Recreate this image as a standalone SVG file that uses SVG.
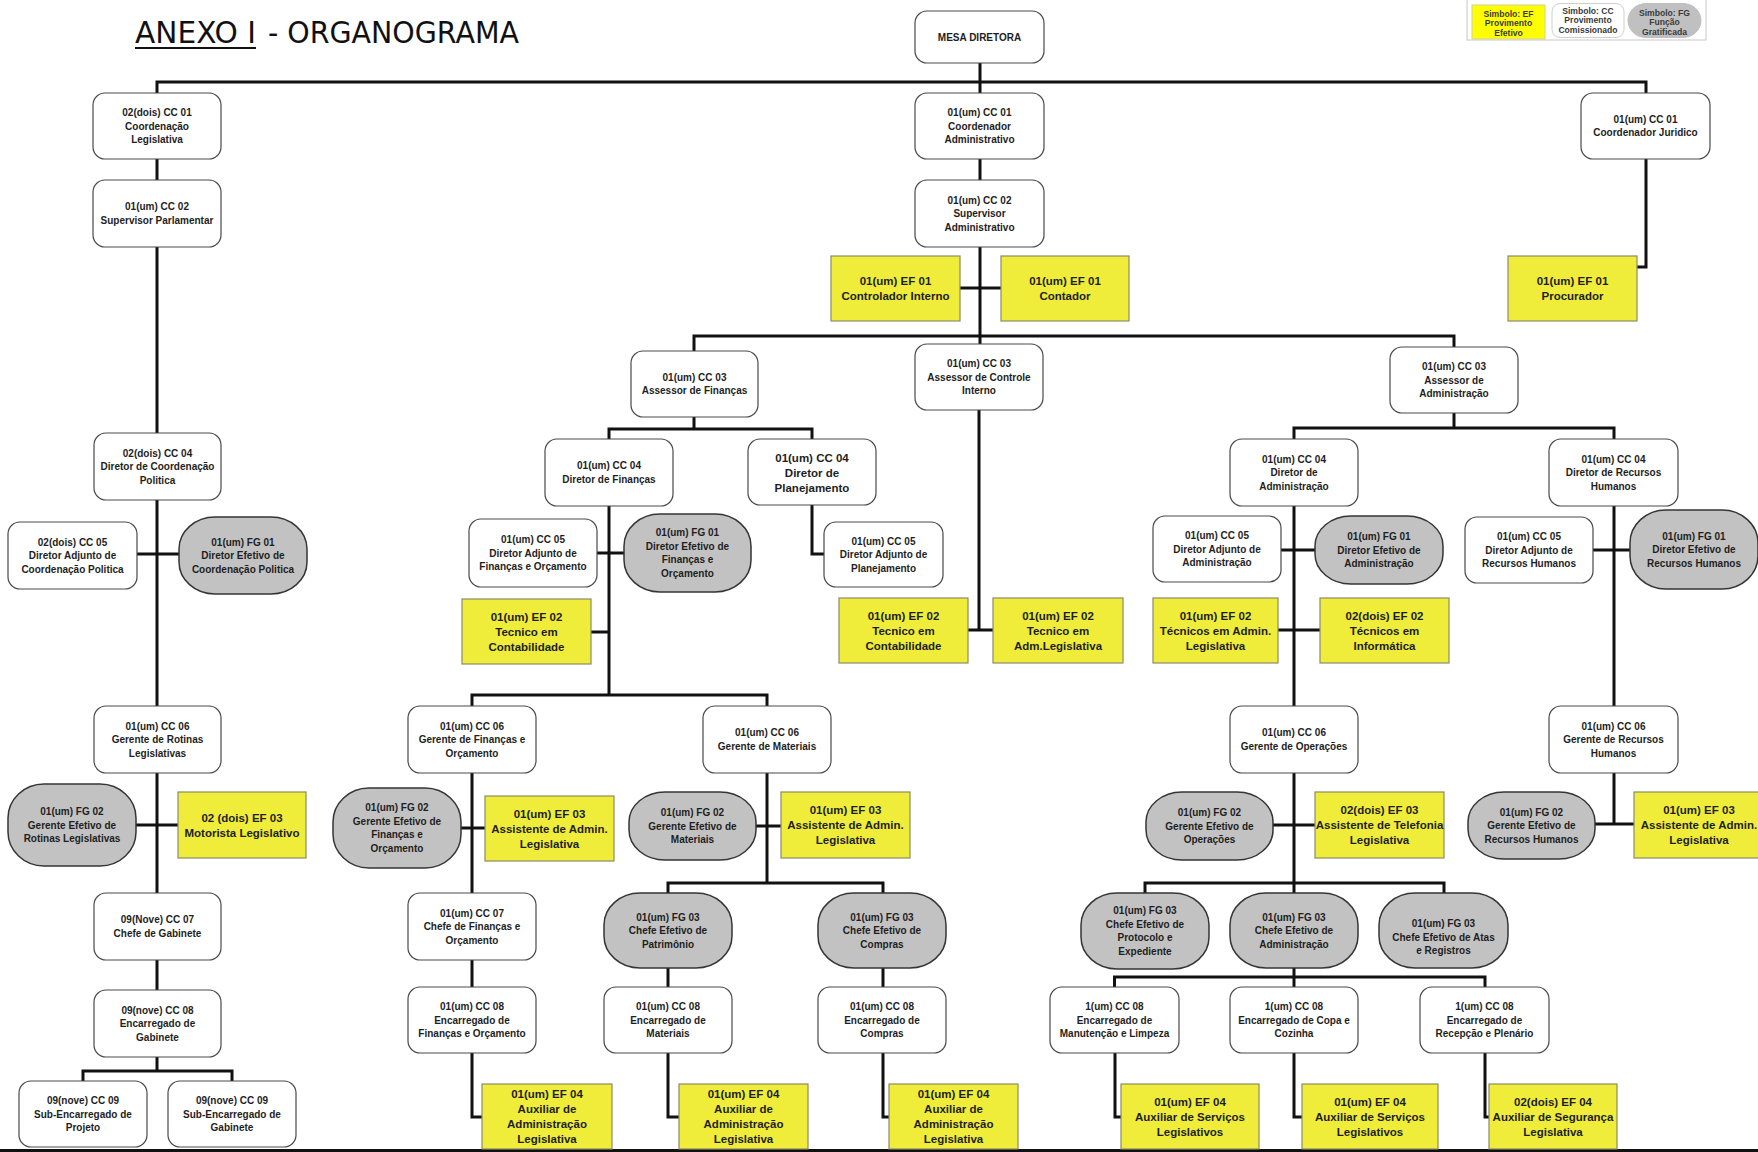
<svg xmlns="http://www.w3.org/2000/svg" width="1758" height="1152" viewBox="0 0 1758 1152">
<style>
.cc{fill:#fff;stroke:#4a4a4a;stroke-width:1.2}
.fg{fill:#c2c2c2;stroke:#353535;stroke-width:1.5}
.ef{fill:#efed3a;stroke:#8a8a6a;stroke-width:1.2}
.t{font-family:"Liberation Sans",Arial,sans-serif;font-weight:bold;font-size:10px;fill:#1e1e1e;text-anchor:middle}
.y{font-size:11.5px}
.lg{font-family:"Liberation Sans",Arial,sans-serif;font-weight:bold;font-size:8.6px;fill:#3a3a3a;text-anchor:middle}
.conn path{fill:none;stroke:#111;stroke-width:3}
</style>
<rect x="0" y="0" width="1758" height="1152" fill="#fff"/>
<g id="title" font-family="'DejaVu Sans',Verdana,sans-serif" font-size="31" fill="#111">
<text x="135" y="43" textLength="121" lengthAdjust="spacingAndGlyphs">ANEXO I</text>
<line x1="135" y1="48" x2="256" y2="48" stroke="#111" stroke-width="1.8"/>
<text x="268" y="43" textLength="251" lengthAdjust="spacingAndGlyphs">- ORGANOGRAMA</text>
</g>
<g id="legend">
<text x="1472" y="2.5" font-family="'Liberation Sans',Arial,sans-serif" font-size="13" fill="#555">Legenda:</text>
<rect x="1467" y="-2" width="239" height="42" fill="#fff" stroke="#c8c8c8" stroke-width="1"/>
<rect x="1472" y="5" width="73" height="34" fill="#ffff00" stroke="#d0d0a0" stroke-width="1"/>
<text class="lg" x="1508.5" y="17"><tspan x="1508.5">Simbolo: EF</tspan><tspan x="1508.5" dy="9.3">Provimento</tspan><tspan x="1508.5" dy="9.3">Efetivo</tspan></text>
<rect x="1552" y="3.5" width="72" height="34" rx="8" fill="#fff" stroke="#cfcfcf" stroke-width="1"/>
<text class="lg" x="1588" y="14"><tspan x="1588">Simbolo: CC</tspan><tspan x="1588" dy="9.3">Provimento</tspan><tspan x="1588" dy="9.3">Comissionado</tspan></text>
<rect x="1628" y="3.5" width="73" height="34" rx="18" ry="17" fill="#c0c0c0" stroke="#c0c0c0" stroke-width="1"/>
<text class="lg" x="1664.5" y="16"><tspan x="1664.5">Simbolo: FG</tspan><tspan x="1664.5" dy="9.3">Função</tspan><tspan x="1664.5" dy="9.3">Gratificada</tspan></text>
</g>
<g class="conn" id="connectors">
<path d="M980 63V93M980 159V180M980 247V344"/>
<path d="M157 93V82H1646V93M1646 159V267H1637"/>
<path d="M157 159V180M157 247V433M157 500V706M137 554H179M157 773V893M136 825H178M157 960V990M157 1057V1071M83 1081V1071H232V1081"/>
<path d="M960 288H1001"/>
<path d="M694 351V336H1454V347"/>
<path d="M694 417V429M609 439V429H812V439"/>
<path d="M609 506V695M597 553H624M591 632H609"/>
<path d="M472 706V695H767V706"/>
<path d="M812 504V554H824"/>
<path d="M979 410V630M968 630H993"/>
<path d="M472 773V893M461 828H485M472 960V987M472 1053V1117H482"/>
<path d="M767 773V883M756 826H781M668 893V883H883V893M668 968V987M883 968V987M668 1053V1117H679M883 1053V1117H889"/>
<path d="M1454 413V428M1294 439V428H1614V439"/>
<path d="M1294 506V706M1281 550H1315M1278 630H1320"/>
<path d="M1614 506V706M1593 550H1630"/>
<path d="M1294 773V893M1273 825H1315M1145 893V883H1444V893M1294 968V987M1114.5 987V977H1485V987"/>
<path d="M1115 1053V1117H1121M1294 1053V1117H1302M1485 1053V1117H1489"/>
<path d="M1614 773V824M1595 824H1634"/>
<path d="M0 1150.5H1758"/>
</g>
<g id="n-mesa"><rect class="cc" x="915" y="11" width="129" height="52" rx="12"/><text class="t" x="979.5" y="40.6">MESA DIRETORA</text></g>
<g id="n-l-cc01"><rect class="cc" x="93" y="93" width="128" height="66" rx="12"/><text class="t" x="157" y="116.1"><tspan x="157">02(dois) CC 01</tspan><tspan x="157" dy="13.5">Coordenação</tspan><tspan x="157" dy="13.5">Legislativa</tspan></text></g>
<g id="n-l-cc02"><rect class="cc" x="93" y="180" width="128" height="67" rx="12"/><text class="t" x="157" y="210.4"><tspan x="157">01(um) CC 02</tspan><tspan x="157" dy="13.5">Supervisor Parlamentar</tspan></text></g>
<g id="n-l-cc04"><rect class="cc" x="94" y="433" width="127" height="67" rx="12"/><text class="t" x="157.5" y="456.6"><tspan x="157.5">02(dois) CC 04</tspan><tspan x="157.5" dy="13.5">Diretor de Coordenação</tspan><tspan x="157.5" dy="13.5">Politica</tspan></text></g>
<g id="n-l-cc05"><rect class="cc" x="8" y="522" width="129" height="67" rx="12"/><text class="t" x="72.5" y="545.6"><tspan x="72.5">02(dois) CC 05</tspan><tspan x="72.5" dy="13.5">Diretor Adjunto de</tspan><tspan x="72.5" dy="13.5">Coordenação Politica</tspan></text></g>
<g id="n-l-fg01"><rect class="fg" x="179" y="517" width="128" height="77" rx="36" ry="32"/><text class="t" x="243" y="545.6"><tspan x="243">01(um) FG 01</tspan><tspan x="243" dy="13.5">Diretor Efetivo de</tspan><tspan x="243" dy="13.5">Coordenação Politica</tspan></text></g>
<g id="n-l-cc06"><rect class="cc" x="94" y="706" width="127" height="67" rx="12"/><text class="t" x="157.5" y="729.6"><tspan x="157.5">01(um) CC 06</tspan><tspan x="157.5" dy="13.5">Gerente de Rotinas</tspan><tspan x="157.5" dy="13.5">Legislativas</tspan></text></g>
<g id="n-l-fg02"><rect class="fg" x="8" y="784" width="128" height="82" rx="36" ry="34"/><text class="t" x="72" y="815.1"><tspan x="72">01(um) FG 02</tspan><tspan x="72" dy="13.5">Gerente  Efetivo de</tspan><tspan x="72" dy="13.5">Rotinas Legislativas</tspan></text></g>
<g id="n-l-ef03"><rect class="ef" x="178" y="792" width="128" height="66"/><text class="t y" x="242" y="821.6"><tspan x="242">02 (dois) EF 03</tspan><tspan x="242" dy="15">Motorista Legislativo</tspan></text></g>
<g id="n-l-cc07"><rect class="cc" x="94" y="893" width="127" height="67" rx="12"/><text class="t" x="157.5" y="923.4"><tspan x="157.5">09(Nove) CC 07</tspan><tspan x="157.5" dy="13.5">Chefe de Gabinete</tspan></text></g>
<g id="n-l-cc08"><rect class="cc" x="94" y="990" width="127" height="67" rx="12"/><text class="t" x="157.5" y="1013.6"><tspan x="157.5">09(nove) CC 08</tspan><tspan x="157.5" dy="13.5">Encarregado de</tspan><tspan x="157.5" dy="13.5">Gabinete</tspan></text></g>
<g id="n-l-cc09a"><rect class="cc" x="19" y="1081" width="128" height="66" rx="12"/><text class="t" x="83" y="1104.1"><tspan x="83">09(nove) CC 09</tspan><tspan x="83" dy="13.5">Sub-Encarregado de</tspan><tspan x="83" dy="13.5">Projeto</tspan></text></g>
<g id="n-l-cc09b"><rect class="cc" x="168" y="1081" width="128" height="66" rx="12"/><text class="t" x="232" y="1104.1"><tspan x="232">09(nove) CC 09</tspan><tspan x="232" dy="13.5">Sub-Encarregado de</tspan><tspan x="232" dy="13.5">Gabinete</tspan></text></g>
<g id="n-c-cc01"><rect class="cc" x="915" y="93" width="129" height="66" rx="12"/><text class="t" x="979.5" y="116.1"><tspan x="979.5">01(um) CC 01</tspan><tspan x="979.5" dy="13.5">Coordenador</tspan><tspan x="979.5" dy="13.5">Administrativo</tspan></text></g>
<g id="n-c-cc02"><rect class="cc" x="915" y="180" width="129" height="67" rx="12"/><text class="t" x="979.5" y="203.6"><tspan x="979.5">01(um) CC 02</tspan><tspan x="979.5" dy="13.5">Supervisor</tspan><tspan x="979.5" dy="13.5">Administrativo</tspan></text></g>
<g id="n-ef-controlador"><rect class="ef" x="831" y="256" width="129" height="65"/><text class="t y" x="895.5" y="285.1"><tspan x="895.5">01(um) EF 01</tspan><tspan x="895.5" dy="15">Controlador Interno</tspan></text></g>
<g id="n-ef-contador"><rect class="ef" x="1001" y="256" width="128" height="65"/><text class="t y" x="1065" y="285.1"><tspan x="1065">01(um) EF 01</tspan><tspan x="1065" dy="15">Contador</tspan></text></g>
<g id="n-r-cc01"><rect class="cc" x="1581" y="93" width="129" height="66" rx="12"/><text class="t" x="1645.5" y="122.9"><tspan x="1645.5">01(um) CC 01</tspan><tspan x="1645.5" dy="13.5">Coordenador Juridico</tspan></text></g>
<g id="n-ef-procurador"><rect class="ef" x="1508" y="256" width="129" height="65"/><text class="t y" x="1572.5" y="285.1"><tspan x="1572.5">01(um) EF 01</tspan><tspan x="1572.5" dy="15">Procurador</tspan></text></g>
<g id="n-cc03-fin"><rect class="cc" x="631" y="351" width="127" height="66" rx="12"/><text class="t" x="694.5" y="380.9"><tspan x="694.5">01(um) CC 03</tspan><tspan x="694.5" dy="13.5">Assessor de Finanças</tspan></text></g>
<g id="n-cc03-ci"><rect class="cc" x="915" y="344" width="128" height="66" rx="12"/><text class="t" x="979" y="367.1"><tspan x="979">01(um) CC 03</tspan><tspan x="979" dy="13.5">Assessor de Controle</tspan><tspan x="979" dy="13.5">Interno</tspan></text></g>
<g id="n-cc03-adm"><rect class="cc" x="1390" y="347" width="128" height="66" rx="12"/><text class="t" x="1454" y="370.1"><tspan x="1454">01(um) CC 03</tspan><tspan x="1454" dy="13.5">Assessor de</tspan><tspan x="1454" dy="13.5">Administração</tspan></text></g>
<g id="n-cc04-fin"><rect class="cc" x="545" y="439" width="128" height="67" rx="12"/><text class="t" x="609" y="469.4"><tspan x="609">01(um) CC 04</tspan><tspan x="609" dy="13.5">Diretor de Finanças</tspan></text></g>
<g id="n-cc04-plan"><rect class="cc" x="748" y="439" width="128" height="66" rx="12"/><text class="t y" x="812" y="462.1"><tspan x="812">01(um) CC 04</tspan><tspan x="812" dy="15">Diretor de</tspan><tspan x="812" dy="15">Planejamento</tspan></text></g>
<g id="n-cc05-fin"><rect class="cc" x="469" y="519" width="128" height="68" rx="12"/><text class="t" x="533" y="543.1"><tspan x="533">01(um) CC 05</tspan><tspan x="533" dy="13.5">Diretor Adjunto de</tspan><tspan x="533" dy="13.5">Finanças e Orçamento</tspan></text></g>
<g id="n-fg01-fin"><rect class="fg" x="624" y="514" width="127" height="78" rx="36" ry="32"/><text class="t" x="687.5" y="536.4"><tspan x="687.5">01(um) FG 01</tspan><tspan x="687.5" dy="13.5">Diretor Efetivo de</tspan><tspan x="687.5" dy="13.5">Finanças e</tspan><tspan x="687.5" dy="13.5">Orçamento</tspan></text></g>
<g id="n-ef02-contab-l"><rect class="ef" x="462" y="599" width="129" height="65"/><text class="t y" x="526.5" y="620.6"><tspan x="526.5">01(um) EF 02</tspan><tspan x="526.5" dy="15">Tecnico em</tspan><tspan x="526.5" dy="15">Contabilidade</tspan></text></g>
<g id="n-cc05-plan"><rect class="cc" x="824" y="522" width="119" height="65" rx="12"/><text class="t" x="883.5" y="544.6"><tspan x="883.5">01(um) CC 05</tspan><tspan x="883.5" dy="13.5">Diretor Adjunto de</tspan><tspan x="883.5" dy="13.5">Planejamento</tspan></text></g>
<g id="n-ef02-contab-m"><rect class="ef" x="839" y="598" width="129" height="65"/><text class="t y" x="903.5" y="619.6"><tspan x="903.5">01(um) EF 02</tspan><tspan x="903.5" dy="15">Tecnico em</tspan><tspan x="903.5" dy="15">Contabilidade</tspan></text></g>
<g id="n-ef02-admleg"><rect class="ef" x="993" y="598" width="130" height="65"/><text class="t y" x="1058" y="619.6"><tspan x="1058">01(um) EF 02</tspan><tspan x="1058" dy="15">Tecnico em</tspan><tspan x="1058" dy="15">Adm.Legislativa</tspan></text></g>
<g id="n-cc06-fin"><rect class="cc" x="408" y="706" width="128" height="67" rx="12"/><text class="t" x="472" y="729.6"><tspan x="472">01(um) CC 06</tspan><tspan x="472" dy="13.5">Gerente de Finanças e</tspan><tspan x="472" dy="13.5">Orçamento</tspan></text></g>
<g id="n-cc06-mat"><rect class="cc" x="703" y="706" width="128" height="67" rx="12"/><text class="t" x="767" y="736.4"><tspan x="767">01(um) CC 06</tspan><tspan x="767" dy="13.5">Gerente de Materiais</tspan></text></g>
<g id="n-fg02-fin"><rect class="fg" x="333" y="788" width="128" height="80" rx="36" ry="34"/><text class="t" x="397" y="811.4"><tspan x="397">01(um) FG 02</tspan><tspan x="397" dy="13.5">Gerente Efetivo de</tspan><tspan x="397" dy="13.5">Finanças e</tspan><tspan x="397" dy="13.5">Orçamento</tspan></text></g>
<g id="n-ef03-fin"><rect class="ef" x="485" y="796" width="129" height="65"/><text class="t y" x="549.5" y="817.6"><tspan x="549.5">01(um) EF 03</tspan><tspan x="549.5" dy="15">Assistente de Admin.</tspan><tspan x="549.5" dy="15">Legislativa</tspan></text></g>
<g id="n-fg02-mat"><rect class="fg" x="629" y="792" width="127" height="68" rx="36" ry="30"/><text class="t" x="692.5" y="816.1"><tspan x="692.5">01(um) FG 02</tspan><tspan x="692.5" dy="13.5">Gerente Efetivo de</tspan><tspan x="692.5" dy="13.5">Materiais</tspan></text></g>
<g id="n-ef03-mat"><rect class="ef" x="781" y="792" width="129" height="66"/><text class="t y" x="845.5" y="814.1"><tspan x="845.5">01(um) EF 03</tspan><tspan x="845.5" dy="15">Assistente de Admin.</tspan><tspan x="845.5" dy="15">Legislativa</tspan></text></g>
<g id="n-cc07-fin"><rect class="cc" x="408" y="893" width="128" height="67" rx="12"/><text class="t" x="472" y="916.6"><tspan x="472">01(um) CC 07</tspan><tspan x="472" dy="13.5">Chefe de Finanças e</tspan><tspan x="472" dy="13.5">Orçamento</tspan></text></g>
<g id="n-fg03-patr"><rect class="fg" x="604" y="893" width="128" height="75" rx="36" ry="32"/><text class="t" x="668" y="920.6"><tspan x="668">01(um) FG 03</tspan><tspan x="668" dy="13.5">Chefe Efetivo de</tspan><tspan x="668" dy="13.5">Patrimônio</tspan></text></g>
<g id="n-fg03-compras"><rect class="fg" x="818" y="893" width="128" height="75" rx="36" ry="32"/><text class="t" x="882" y="920.6"><tspan x="882">01(um) FG 03</tspan><tspan x="882" dy="13.5">Chefe Efetivo de</tspan><tspan x="882" dy="13.5">Compras</tspan></text></g>
<g id="n-cc08-fin"><rect class="cc" x="408" y="987" width="128" height="66" rx="12"/><text class="t" x="472" y="1010.1"><tspan x="472">01(um) CC 08</tspan><tspan x="472" dy="13.5">Encarregado de</tspan><tspan x="472" dy="13.5">Finanças e Orçamento</tspan></text></g>
<g id="n-cc08-mat"><rect class="cc" x="604" y="987" width="128" height="66" rx="12"/><text class="t" x="668" y="1010.1"><tspan x="668">01(um) CC 08</tspan><tspan x="668" dy="13.5">Encarregado de</tspan><tspan x="668" dy="13.5">Materiais</tspan></text></g>
<g id="n-cc08-compras"><rect class="cc" x="818" y="987" width="128" height="66" rx="12"/><text class="t" x="882" y="1010.1"><tspan x="882">01(um) CC 08</tspan><tspan x="882" dy="13.5">Encarregado de</tspan><tspan x="882" dy="13.5">Compras</tspan></text></g>
<g id="n-ef04-fin"><rect class="ef" x="482" y="1084" width="130" height="65"/><text class="t y" x="547" y="1098.1"><tspan x="547">01(um) EF 04</tspan><tspan x="547" dy="15">Auxiliar de</tspan><tspan x="547" dy="15">Administração</tspan><tspan x="547" dy="15">Legislativa</tspan></text></g>
<g id="n-ef04-mat"><rect class="ef" x="679" y="1084" width="129" height="65"/><text class="t y" x="743.5" y="1098.1"><tspan x="743.5">01(um) EF 04</tspan><tspan x="743.5" dy="15">Auxiliar de</tspan><tspan x="743.5" dy="15">Administração</tspan><tspan x="743.5" dy="15">Legislativa</tspan></text></g>
<g id="n-ef04-compras"><rect class="ef" x="889" y="1084" width="129" height="65"/><text class="t y" x="953.5" y="1098.1"><tspan x="953.5">01(um) EF 04</tspan><tspan x="953.5" dy="15">Auxiliar de</tspan><tspan x="953.5" dy="15">Administração</tspan><tspan x="953.5" dy="15">Legislativa</tspan></text></g>
<g id="n-cc04-adm"><rect class="cc" x="1230" y="439" width="128" height="67" rx="12"/><text class="t" x="1294" y="462.6"><tspan x="1294">01(um) CC 04</tspan><tspan x="1294" dy="13.5">Diretor de</tspan><tspan x="1294" dy="13.5">Administração</tspan></text></g>
<g id="n-cc04-rh"><rect class="cc" x="1549" y="439" width="129" height="67" rx="12"/><text class="t" x="1613.5" y="462.6"><tspan x="1613.5">01(um) CC 04</tspan><tspan x="1613.5" dy="13.5">Diretor de Recursos</tspan><tspan x="1613.5" dy="13.5">Humanos</tspan></text></g>
<g id="n-cc05-adm"><rect class="cc" x="1153" y="516" width="128" height="66" rx="12"/><text class="t" x="1217" y="539.1"><tspan x="1217">01(um) CC 05</tspan><tspan x="1217" dy="13.5">Diretor Adjunto de</tspan><tspan x="1217" dy="13.5">Administração</tspan></text></g>
<g id="n-fg01-adm"><rect class="fg" x="1315" y="516" width="128" height="68" rx="36" ry="30"/><text class="t" x="1379" y="540.1"><tspan x="1379">01(um) FG 01</tspan><tspan x="1379" dy="13.5">Diretor Efetivo de</tspan><tspan x="1379" dy="13.5">Administração</tspan></text></g>
<g id="n-ef02-tecadm"><rect class="ef" x="1153" y="598" width="125" height="65"/><text class="t y" x="1215.5" y="619.6"><tspan x="1215.5">01(um) EF 02</tspan><tspan x="1215.5" dy="15">Técnicos em Admin.</tspan><tspan x="1215.5" dy="15">Legislativa</tspan></text></g>
<g id="n-ef02-info"><rect class="ef" x="1320" y="598" width="129" height="65"/><text class="t y" x="1384.5" y="619.6"><tspan x="1384.5">02(dois) EF 02</tspan><tspan x="1384.5" dy="15">Técnicos em</tspan><tspan x="1384.5" dy="15">Informática</tspan></text></g>
<g id="n-cc05-rh"><rect class="cc" x="1465" y="517" width="128" height="66" rx="12"/><text class="t" x="1529" y="540.1"><tspan x="1529">01(um) CC 05</tspan><tspan x="1529" dy="13.5">Diretor Adjunto de</tspan><tspan x="1529" dy="13.5">Recursos Humanos</tspan></text></g>
<g id="n-fg01-rh"><rect class="fg" x="1630" y="510" width="128" height="79" rx="36" ry="33"/><text class="t" x="1694" y="539.6"><tspan x="1694">01(um) FG 01</tspan><tspan x="1694" dy="13.5">Diretor Efetivo de</tspan><tspan x="1694" dy="13.5">Recursos Humanos</tspan></text></g>
<g id="n-cc06-oper"><rect class="cc" x="1230" y="706" width="128" height="67" rx="12"/><text class="t" x="1294" y="736.4"><tspan x="1294">01(um) CC 06</tspan><tspan x="1294" dy="13.5">Gerente de Operações</tspan></text></g>
<g id="n-cc06-rh"><rect class="cc" x="1549" y="706" width="129" height="67" rx="12"/><text class="t" x="1613.5" y="729.6"><tspan x="1613.5">01(um) CC 06</tspan><tspan x="1613.5" dy="13.5">Gerente de Recursos</tspan><tspan x="1613.5" dy="13.5">Humanos</tspan></text></g>
<g id="n-fg02-oper"><rect class="fg" x="1146" y="792" width="127" height="68" rx="36" ry="30"/><text class="t" x="1209.5" y="816.1"><tspan x="1209.5">01(um) FG 02</tspan><tspan x="1209.5" dy="13.5">Gerente Efetivo de</tspan><tspan x="1209.5" dy="13.5">Operações</tspan></text></g>
<g id="n-ef03-tel"><rect class="ef" x="1315" y="792" width="129" height="66"/><text class="t y" x="1379.5" y="814.1"><tspan x="1379.5">02(dois) EF 03</tspan><tspan x="1379.5" dy="15">Assistente de Telefonia</tspan><tspan x="1379.5" dy="15">Legislativa</tspan></text></g>
<g id="n-fg02-rh"><rect class="fg" x="1468" y="792" width="127" height="67" rx="36" ry="30"/><text class="t" x="1531.5" y="815.6"><tspan x="1531.5">01(um) FG 02</tspan><tspan x="1531.5" dy="13.5">Gerente  Efetivo de</tspan><tspan x="1531.5" dy="13.5">Recursos Humanos</tspan></text></g>
<g id="n-ef03-rh"><rect class="ef" x="1634" y="792" width="130" height="66"/><text class="t y" x="1699" y="814.1"><tspan x="1699">01(um) EF 03</tspan><tspan x="1699" dy="15">Assistente de Admin.</tspan><tspan x="1699" dy="15">Legislativa</tspan></text></g>
<g id="n-fg03-prot"><rect class="fg" x="1081" y="893" width="128" height="76" rx="36" ry="32"/><text class="t" x="1145" y="914.4"><tspan x="1145">01(um) FG 03</tspan><tspan x="1145" dy="13.5">Chefe Efetivo de</tspan><tspan x="1145" dy="13.5">Protocolo e</tspan><tspan x="1145" dy="13.5">Expediente</tspan></text></g>
<g id="n-fg03-adm"><rect class="fg" x="1230" y="893" width="128" height="75" rx="36" ry="32"/><text class="t" x="1294" y="920.6"><tspan x="1294">01(um) FG 03</tspan><tspan x="1294" dy="13.5">Chefe Efetivo de</tspan><tspan x="1294" dy="13.5">Administração</tspan></text></g>
<g id="n-fg03-atas"><rect class="fg" x="1379" y="893" width="129" height="75" rx="36" ry="32"/><text class="t" x="1443.5" y="927.4"><tspan x="1443.5">01(um) FG 03</tspan><tspan x="1443.5" dy="13.5">Chefe Efetivo de Atas</tspan><tspan x="1443.5" dy="13.5">e Registros</tspan></text></g>
<g id="n-cc08-manut"><rect class="cc" x="1050" y="987" width="129" height="66" rx="12"/><text class="t" x="1114.5" y="1010.1"><tspan x="1114.5">1(um) CC 08</tspan><tspan x="1114.5" dy="13.5">Encarregado de</tspan><tspan x="1114.5" dy="13.5">Manutenção e Limpeza</tspan></text></g>
<g id="n-cc08-copa"><rect class="cc" x="1230" y="987" width="128" height="66" rx="12"/><text class="t" x="1294" y="1010.1"><tspan x="1294">1(um) CC 08</tspan><tspan x="1294" dy="13.5">Encarregado de Copa e</tspan><tspan x="1294" dy="13.5">Cozinha</tspan></text></g>
<g id="n-cc08-recep"><rect class="cc" x="1420" y="987" width="129" height="66" rx="12"/><text class="t" x="1484.5" y="1010.1"><tspan x="1484.5">1(um) CC 08</tspan><tspan x="1484.5" dy="13.5">Encarregado de</tspan><tspan x="1484.5" dy="13.5">Recepção e Plenário</tspan></text></g>
<g id="n-ef04-serv-a"><rect class="ef" x="1121" y="1084" width="138" height="65"/><text class="t y" x="1190" y="1105.6"><tspan x="1190">01(um) EF 04</tspan><tspan x="1190" dy="15">Auxiliar de Serviços</tspan><tspan x="1190" dy="15">Legislativos</tspan></text></g>
<g id="n-ef04-serv-b"><rect class="ef" x="1302" y="1084" width="136" height="65"/><text class="t y" x="1370" y="1105.6"><tspan x="1370">01(um) EF 04</tspan><tspan x="1370" dy="15">Auxiliar de Serviços</tspan><tspan x="1370" dy="15">Legislativos</tspan></text></g>
<g id="n-ef04-seg"><rect class="ef" x="1489" y="1084" width="128" height="65"/><text class="t y" x="1553" y="1105.6"><tspan x="1553">02(dois) EF 04</tspan><tspan x="1553" dy="15">Auxiliar de Segurança</tspan><tspan x="1553" dy="15">Legislativa</tspan></text></g>
</svg>
